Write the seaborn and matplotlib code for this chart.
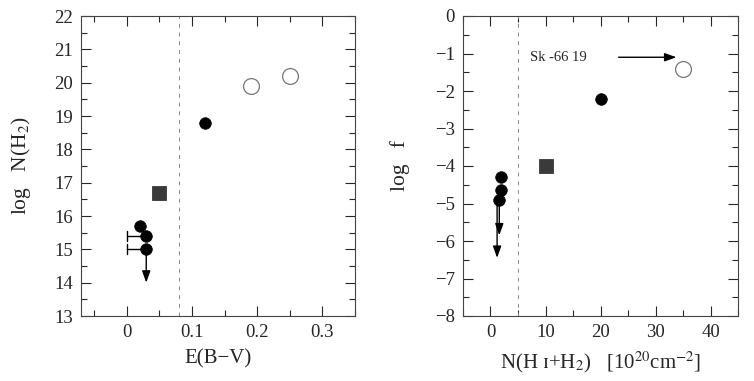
"""Molecular hydrogen vs reddening and total hydrogen column."""

import matplotlib
matplotlib.use("Agg")
import matplotlib.pyplot as plt
from matplotlib.ticker import MultipleLocator
import seaborn as sns

# left panel: E(B-V) vs log N(H2)
ebv_filled = [0.02, 0.03, 0.03, 0.12]
nh2_filled = [15.7, 15.4, 15.0, 18.8]
ebv_square = [0.05]
nh2_square = [16.7]
ebv_open = [0.19, 0.25]
nh2_open = [19.9, 20.2]
ebv_limit_lo = [0.0, 0.0]          # left ends of the x-range bars
ebv_limit_y = [15.4, 15.0]
ebv_arrow_x = [0.03]
ebv_arrow_from = [15.0]
ebv_arrow_to = [14.0]
ebv_cut = 0.08

# right panel: N(HI+H2) vs log f
ntot_filled = [1.9, 1.9, 1.5, 20.0]
logf_filled = [-4.3, -4.65, -4.9, -2.2]
ntot_square = [10.0]
logf_square = [-4.0]
ntot_open = [35.0]
logf_open = [-1.4]
ntot_arrow_x = [1.6, 1.2]
ntot_arrow_from = [-4.65, -4.9]
ntot_arrow_to = [-5.85, -6.45]
ntot_cut = 5.0
label_text = "Sk -66 19"
label_pos = (12.3, -1.1)
label_arrow = (23.3, 33.8)

sns.set_style("ticks")
plt.rcParams["font.family"] = ["Liberation Serif", "DejaVu Serif"]
plt.rcParams["mathtext.fontset"] = "stix"

fig = plt.figure(figsize=(7.54, 3.81), dpi=100)
ax1 = fig.add_axes([81 / 754, 65 / 381, 274 / 754, 300 / 381])
ax2 = fig.add_axes([463 / 754, 65 / 381, 275 / 754, 300 / 381])


def draw_points(ax, xf, yf, xs, ys, xo, yo):
    sns.scatterplot(x=xf, y=yf, ax=ax, marker="o", s=70, color="black",
                    edgecolor="black", linewidth=0.5, zorder=4)
    sns.scatterplot(x=xs, y=ys, ax=ax, marker="s", s=105, color="#3a3a3a",
                    edgecolor="#222222", linewidth=0.5, zorder=4)
    sns.scatterplot(x=xo, y=yo, ax=ax, marker="o", s=130, facecolor="white",
                    edgecolor="#777777", linewidth=0.9, zorder=4)


def down_arrow(ax, x, y0, y1):
    ax.annotate("", xy=(x, y1), xytext=(x, y0),
                arrowprops=dict(arrowstyle="-|>,head_length=0.7,head_width=0.25",
                                color="black", lw=1.0, shrinkA=0, shrinkB=0),
                zorder=3)


def style_axes(ax):
    ax.tick_params(which="both", direction="in", top=True, right=True,
                   labelsize=13.5, width=0.8, pad=6)
    ax.tick_params(which="major", length=7)
    ax.tick_params(which="minor", length=4)
    for sp in ax.spines.values():
        sp.set_linewidth(0.8)
        sp.set_color("#444444")


# left panel
draw_points(ax1, ebv_filled, nh2_filled, ebv_square, nh2_square, ebv_open, nh2_open)
for x0, y in zip(ebv_limit_lo, ebv_limit_y):
    ax1.plot([x0, 0.03], [y, y], color="black", lw=1.0, zorder=3)
    ax1.plot([x0, x0], [y - 0.15, y + 0.15], color="black", lw=1.0, zorder=3)
for x, y0, y1 in zip(ebv_arrow_x, ebv_arrow_from, ebv_arrow_to):
    down_arrow(ax1, x, y0, y1)
ax1.axvline(ebv_cut, color="#888888", lw=0.7, ls=(0, (4, 5)), zorder=1)
ax1.set_xlim(-0.07, 0.35)
ax1.set_ylim(13, 22)
ax1.xaxis.set_major_locator(MultipleLocator(0.1))
ax1.xaxis.set_minor_locator(MultipleLocator(0.05))
ax1.yaxis.set_major_locator(MultipleLocator(1))
ax1.yaxis.set_minor_locator(MultipleLocator(0.5))
ax1.set_xticks([0, 0.1, 0.2, 0.3], ["0", "0.1", "0.2", "0.3"])
ax1.set_xlabel("E(B\u2212V)", fontsize=15, labelpad=6)
ax1.set_ylabel("log   N(H$_2$)", fontsize=15.5, labelpad=15)
style_axes(ax1)

# right panel
draw_points(ax2, ntot_filled, logf_filled, ntot_square, logf_square, ntot_open, logf_open)
for x, y0, y1 in zip(ntot_arrow_x, ntot_arrow_from, ntot_arrow_to):
    down_arrow(ax2, x, y0, y1)
ax2.axvline(ntot_cut, color="#888888", lw=0.7, ls=(0, (4, 5)), zorder=1)
ax2.text(label_pos[0], label_pos[1], label_text, fontsize=10.5, va="center", ha="center")
ax2.annotate("", xy=(label_arrow[1], label_pos[1]), xytext=(label_arrow[0], label_pos[1]),
             arrowprops=dict(arrowstyle="-|>,head_length=0.7,head_width=0.25",
                             color="black", lw=1.0, shrinkA=0, shrinkB=0))
ax2.set_xlim(-5, 45)
ax2.set_ylim(-8, 0)
ax2.xaxis.set_major_locator(MultipleLocator(10))
ax2.xaxis.set_minor_locator(MultipleLocator(5))
ax2.yaxis.set_major_locator(MultipleLocator(1))
ax2.yaxis.set_minor_locator(MultipleLocator(0.5))
ax2.set_yticks(range(-8, 1), [f"\u2212{-v}" if v < 0 else str(v) for v in range(-8, 1)])
ax2.set_xlabel("N(H \u026a+H$_2$)   [10$^{20}$cm$^{-2}$]", fontsize=15, labelpad=6)
ax2.set_ylabel("log   f", fontsize=15.5, labelpad=18)
style_axes(ax2)

fig.savefig("out.png", dpi=100)
plt.close(fig)
